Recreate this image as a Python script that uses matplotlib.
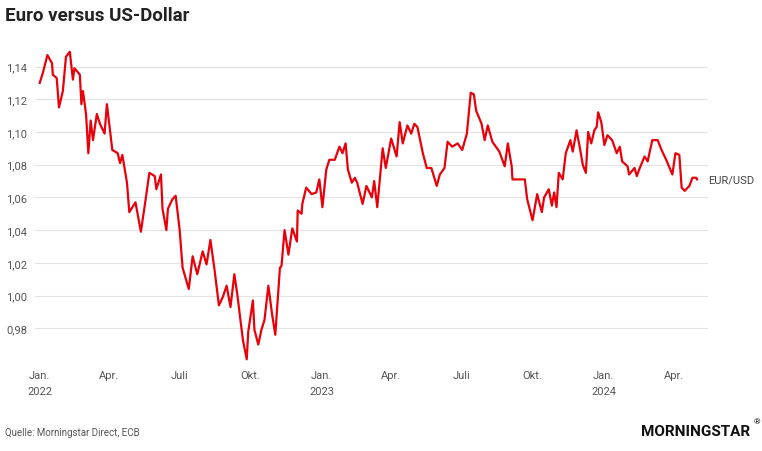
import numpy as np
import pandas as pd
import matplotlib
matplotlib.use("Agg")
import matplotlib.pyplot as plt

# days since 2022-01-01 and EUR/USD level
days = [0, 4, 10, 16, 17, 22, 25, 30, 34, 39, 43, 45, 52, 54, 56, 60, 63, 66, 69, 74,
        78, 84, 87, 91, 94, 101, 104, 107, 113, 116, 124, 131, 136, 142, 149, 151, 157, 159,
        164, 166, 172, 176, 181, 185, 193, 198, 204, 211, 216, 221, 226, 232, 237, 242, 247,
        252, 256, 263, 268, 270, 276, 278, 283, 287, 291, 296, 301, 305, 311, 313, 317, 322,
        327, 333, 334, 339, 340, 345, 352, 358, 362, 366, 371, 375, 382, 388, 392, 396, 399,
        404, 408, 411, 418, 423, 430, 433, 437, 444, 448, 455, 462, 466, 470, 476, 481, 485,
        489, 496, 501, 507, 514, 518, 524, 528, 534, 541, 547, 553, 558, 562, 565, 572, 576,
        580, 586, 595, 602, 606, 611, 612, 628, 631, 638, 644, 650, 653, 659, 663, 666, 669,
        672, 677, 681, 687, 690, 695, 699, 703, 707, 710, 714, 718, 721, 723, 727, 731, 735,
        741, 747, 751, 754, 761, 763, 770, 773, 776, 783, 787, 793, 800, 805, 811, 819, 823,
        828, 831, 835, 841, 845, 850, 851]
eurusd = [1.130, 1.136, 1.147, 1.142, 1.135, 1.133, 1.115, 1.125, 1.146, 1.149, 1.132, 1.139,
          1.135, 1.117, 1.125, 1.111, 1.087, 1.107, 1.095, 1.111, 1.105, 1.099, 1.117, 1.101,
          1.089, 1.087, 1.081, 1.086, 1.069, 1.051, 1.057, 1.039, 1.055, 1.075, 1.073, 1.065,
          1.074, 1.053, 1.040, 1.053, 1.059, 1.061, 1.041, 1.017, 1.004, 1.024, 1.013, 1.027,
          1.019, 1.034, 1.017, 0.994, 0.999, 1.006, 0.993, 1.013, 1.000, 0.973, 0.961, 0.978,
          0.997, 0.979, 0.970, 0.979, 0.985, 1.006, 0.988, 0.976, 1.017, 1.018, 1.040, 1.025,
          1.041, 1.033, 1.052, 1.050, 1.056, 1.066, 1.062, 1.063, 1.071, 1.054, 1.077, 1.083,
          1.083, 1.091, 1.087, 1.093, 1.077, 1.069, 1.072, 1.069, 1.056, 1.067, 1.060, 1.070,
          1.054, 1.090, 1.078, 1.096, 1.085, 1.106, 1.093, 1.104, 1.099, 1.105, 1.103, 1.087,
          1.078, 1.078, 1.067, 1.074, 1.078, 1.094, 1.091, 1.093, 1.089, 1.099, 1.124, 1.123,
          1.113, 1.105, 1.095, 1.104, 1.094, 1.088, 1.079, 1.093, 1.079, 1.071, 1.071, 1.059,
          1.046, 1.062, 1.051, 1.060, 1.065, 1.055, 1.063, 1.054, 1.075, 1.071, 1.087, 1.095,
          1.088, 1.101, 1.091, 1.080, 1.075, 1.100, 1.093, 1.101, 1.103, 1.112, 1.106, 1.092,
          1.098, 1.095, 1.087, 1.091, 1.082, 1.079, 1.074, 1.078, 1.073, 1.077, 1.085, 1.082,
          1.095, 1.095, 1.089, 1.083, 1.074, 1.087, 1.086, 1.066, 1.064, 1.067, 1.072, 1.072,
          1.071]

yticks = [0.98, 1.00, 1.02, 1.04, 1.06, 1.08, 1.10, 1.12, 1.14]
month_ticks = ["2022-01-01", "2022-04-01", "2022-07-01", "2022-10-01", "2023-01-01",
               "2023-04-01", "2023-07-01", "2023-10-01", "2024-01-01", "2024-04-01"]
month_labels = ["Jan.", "Apr.", "Juli", "Okt."] * 3
year_ticks = ["2022-01-01", "2023-01-01", "2024-01-01"]
year_labels = ["2022", "2023", "2024"]

dates = pd.Timestamp("2022-01-01") + pd.to_timedelta(days, unit="D")

plt.rcParams["font.family"] = "Roboto"
fig = plt.figure(figsize=(7.62, 4.52), dpi=100)
ax = fig.add_axes([0.046, 0.192, 0.883, 0.702])

ax.plot(dates, eurusd, color="#e8000b", lw=1.6)
ax.set_xlim(pd.Timestamp("2021-12-26"), pd.Timestamp("2024-05-15"))
ax.set_ylim(0.958, 1.152)

ax.set_yticks(yticks)
ax.set_yticklabels([f"{v:.2f}".replace(".", ",") for v in yticks], fontsize=8, color="#555555")
ax.tick_params(axis="y", length=0, pad=21)
for lab in ax.get_yticklabels():
    lab.set_horizontalalignment("left")
ax.grid(axis="y", color="#e3e3e3", lw=0.8)
ax.set_axisbelow(True)

mt = pd.to_datetime(month_ticks)
ax.set_xticks(mt)
ax.set_xticklabels(month_labels[:len(mt)], fontsize=8, color="#555555")
ax.tick_params(axis="x", length=0, pad=4)
for t, lab in zip(pd.to_datetime(year_ticks), year_labels):
    ax.annotate(lab, xy=(t, 0), xycoords=("data", "axes fraction"), xytext=(0, -16),
                textcoords="offset points", ha="center", va="top", fontsize=8, color="#555555")

for s in ax.spines.values():
    s.set_visible(False)

ax.annotate("EUR/USD", xy=(1, eurusd[-1]), xycoords=("axes fraction", "data"),
            xytext=(0, 0), textcoords="offset points", va="center", fontsize=8, color="#444444")

fig.text(0.007, 0.965, "Euro versus US-Dollar", fontsize=13.5, fontweight="bold",
         color="#222222", va="center", stretch="condensed")
fig.text(0.007, 0.042, "Quelle: Morningstar Direct, ECB", fontsize=7, color="#555555", va="center")
fig.text(0.985, 0.045, "MORNINGSTAR", fontsize=11, fontweight="bold", color="#111111",
         ha="right", va="center")
fig.text(0.998, 0.065, "®", fontsize=6, color="#111111", ha="right", va="center")

fig.savefig("out.png", dpi=100)
